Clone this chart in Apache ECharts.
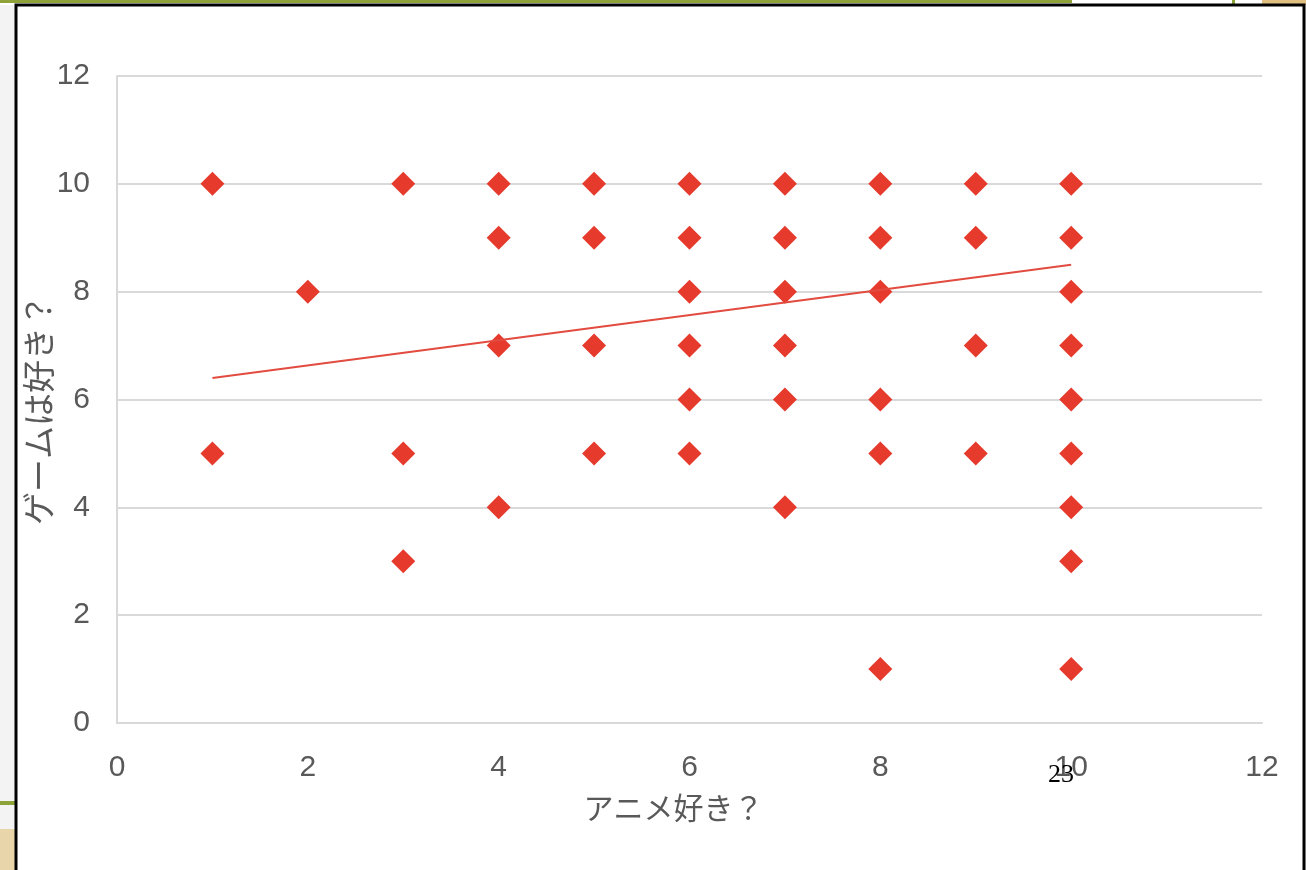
<!DOCTYPE html>
<html>
<head>
<meta charset="utf-8">
<title>アニメ好き？ × ゲームは好き？</title>
<script src="https://cdn.jsdelivr.net/npm/echarts@6/dist/echarts.min.js"></script>
<style>
    html, body { margin: 0; padding: 0; background: #f3f3f3; }
    #chart { width: 1306px; height: 870px; }
</style>
</head>
<body>
<div id="chart"></div>
<script>
// アンケート回答 (x: アニメ好き？, y: ゲームは好き？)
var animeLikes = [
    1, 1,
    2,
    3, 3, 3,
    4, 4, 4, 4,
    5, 5, 5, 5,
    6, 6, 6, 6, 6, 6,
    7, 7, 7, 7, 7, 7,
    8, 8, 8, 8, 8, 8,
    9, 9, 9, 9,
    10, 10, 10, 10, 10, 10, 10, 10, 10
];
var gameLikes = [
    10, 5,
    8,
    10, 5, 3,
    10, 9, 7, 4,
    10, 9, 7, 5,
    10, 9, 8, 7, 6, 5,
    10, 9, 8, 7, 6, 4,
    10, 9, 8, 6, 5, 1,
    10, 9, 7, 5,
    10, 9, 8, 7, 6, 5, 4, 3, 1
];
// 近似直線 (端点を図から読み取り)
var trendX = [1, 10];
var trendY = [6.4, 8.5];

var axisTicks = { min: 0, max: 12, interval: 2 };

var labelColor = '#595959';
var gridColor = '#d9d9d9';
var markColor = '#e53a2c';

var myChart = echarts.init(document.getElementById('chart'));

var option = {
    animation: false,
    backgroundColor: 'transparent',
    grid: {
        left: 117,
        right: 44,
        top: 76,
        bottom: 147
    },
    graphic: [
        // スライドの外枠
        { type: 'rect', z: -10, shape: { x: 0, y: 0, width: 1306, height: 5 }, style: { fill: '#ffffff' } },
        { type: 'rect', z: -10, shape: { x: 0, y: 0, width: 1072, height: 3 }, style: { fill: '#8ea23a' } },
        { type: 'rect', z: -10, shape: { x: 1232, y: 0, width: 3, height: 5 }, style: { fill: '#8ea23a' } },
        { type: 'rect', z: -10, shape: { x: 1262, y: 0, width: 44, height: 5 }, style: { fill: '#e0bf80' } },
        { type: 'rect', z: -10, shape: { x: 0, y: 801, width: 15, height: 4 }, style: { fill: '#8ea23a' } },
        { type: 'rect', z: -10, shape: { x: 0, y: 829, width: 15, height: 41 }, style: { fill: '#e8d5aa' } },
        {
            type: 'rect', z: -9,
            shape: { x: 16, y: 5, width: 1288, height: 880 },
            style: { fill: '#ffffff', stroke: '#000000', lineWidth: 3 }
        },
        // ページ番号
        {
            type: 'text', z: 100, left: 1048, top: 762,
            style: { text: '23', fill: '#000000', font: '26px "Liberation Serif"' }
        }
    ],
    xAxis: {
        type: 'value',
        min: axisTicks.min,
        max: axisTicks.max,
        interval: axisTicks.interval,
        name: 'アニメ好き？',
        nameLocation: 'middle',
        nameGap: 70,
        nameMoveOverlap: false,
        nameTextStyle: {
            color: labelColor, fontSize: 30, fontFamily: 'Noto Sans CJK JP',
            padding: [0, 32, 0, 0]
        },
        axisLine: { show: true, lineStyle: { color: gridColor, width: 2 } },
        axisTick: { show: false },
        splitLine: { show: false },
        axisLabel: { color: labelColor, fontSize: 30, fontFamily: 'Liberation Sans', margin: 30 }
    },
    yAxis: {
        type: 'value',
        min: axisTicks.min,
        max: axisTicks.max,
        interval: axisTicks.interval,
        name: 'ゲームは好き？',
        nameLocation: 'middle',
        nameGap: 62,
        nameMoveOverlap: false,
        nameTextStyle: {
            color: labelColor, fontSize: 33, fontFamily: 'Noto Sans CJK JP',
            padding: [0, 20, 0, 0]
        },
        axisLine: { show: true, lineStyle: { color: gridColor, width: 2 } },
        axisTick: { show: false },
        splitLine: { show: true, lineStyle: { color: gridColor, width: 2 } },
        axisLabel: { color: labelColor, fontSize: 30, fontFamily: 'Liberation Sans', margin: 27 }
    },
    series: [
        {
            name: 'ゲームは好き？',
            type: 'scatter',
            symbol: 'diamond',
            symbolSize: 24,
            itemStyle: { color: markColor, opacity: 1 },
            data: animeLikes.map(function (a, i) {
                return [a, gameLikes[i]];
            })
        },
        {
            name: '線形近似',
            type: 'line',
            showSymbol: false,
            z: 3,
            lineStyle: { color: '#e24b40', width: 2 },
            data: trendX.map(function (x, i) {
                return [x, trendY[i]];
            })
        }
    ]
};

myChart.setOption(option);
</script>
</body>
</html>
